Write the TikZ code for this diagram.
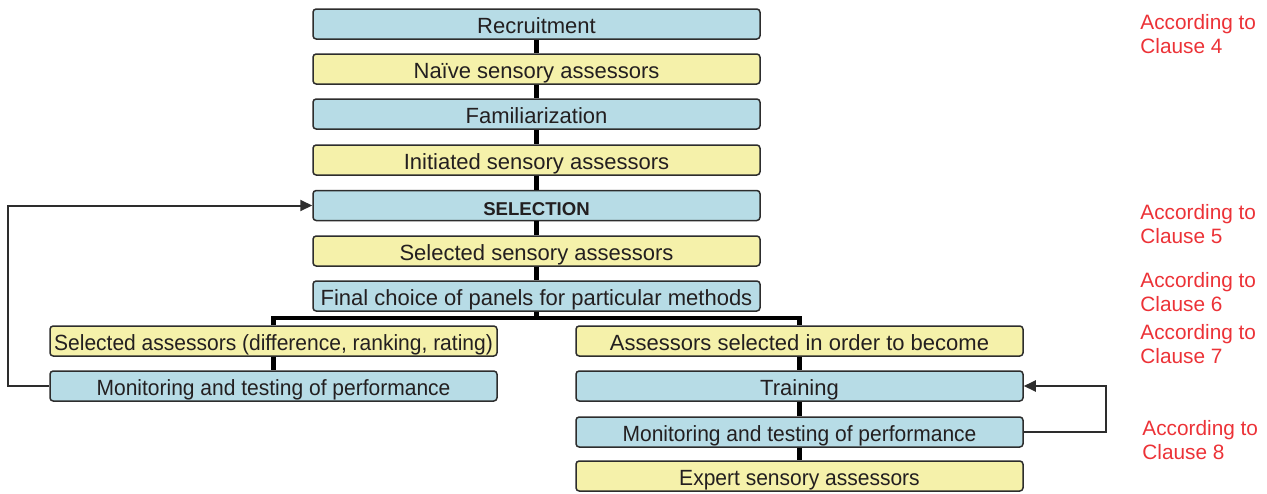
\documentclass[tikz,border=0pt]{standalone}
\usepackage{fontspec}
\setmainfont{Liberation Sans}
\newfontfamily\narrowfont[FakeStretch=0.955]{Liberation Sans}
\usetikzlibrary{arrows.meta}
\definecolor{boxblue}{RGB}{183,220,230}
\definecolor{boxyellow}{RGB}{245,241,170}
\definecolor{boxline}{RGB}{45,45,45}
\definecolor{txt}{RGB}{35,31,32}
\definecolor{clause}{RGB}{236,50,55}
\tikzset{
  stepbox/.style={draw=boxline, line width=0.75pt, rounded corners=1.6pt, minimum width=223.5pt, minimum height=15pt, inner sep=0pt, text height=10.2pt, text depth=0.8pt, text=txt, font=\fontsize{11}{13}\selectfont},
  bluebox/.style={stepbox, fill=boxblue},
  yellowbox/.style={stepbox, fill=boxyellow},
  narrowtext/.style={font=\narrowfont\fontsize{11}{13}\selectfont},
  conn/.style={line width=2.2pt, draw=black, line join=miter},
  fb/.style={line width=1pt, draw=boxline, -{Triangle[length=6pt,width=5.5pt]}},
  note/.style={text=clause, font=\fontsize{10.4}{12}\selectfont, align=left, anchor=west, inner sep=0pt}
}
\begin{document}
\begin{tikzpicture}[x=0.5pt,y=-0.5pt]
\useasboundingbox (0,0) rectangle (1267,493);
% main column
\node[bluebox]   (R)  at (536.5,24)  {Recruitment};
\node[yellowbox] (N)  at (536.5,69)  {Naïve sensory assessors};
\node[bluebox]   (F)  at (536.5,114) {Familiarization};
\node[yellowbox] (I)  at (536.5,160) {Initiated sensory assessors};
\node[bluebox, text height=10.2pt, text depth=0pt] (S)  at (536.5,205.5) {\fontsize{9.3}{11}\selectfont\bfseries SELECTION};
\node[yellowbox] (SS) at (536.5,251) {Selected sensory assessors};
\node[bluebox]   (FC) at (536.5,296) {Final choice of panels for particular methods};
% left column
\node[yellowbox, narrowtext] (SA) at (273.5,341) {Selected assessors (difference, ranking, rating)};
\node[bluebox, narrowtext]   (ML) at (273.5,386) {Monitoring and testing of performance};
% right column
\node[yellowbox] (AS) at (799.5,341) {Assessors selected in order to become};
\node[bluebox]   (T)  at (799.5,386) {Training};
\node[bluebox, narrowtext]   (MR) at (799.5,432) {Monitoring and testing of performance};
\node[yellowbox, narrowtext] (E)  at (799.5,476) {Expert sensory assessors};
% connectors
\draw[conn] (R) -- (N);
\draw[conn] (N) -- (F);
\draw[conn] (F) -- (I);
\draw[conn] (I) -- (S);
\draw[conn] (S) -- (SS);
\draw[conn] (SS) -- (FC);
\coordinate (b)  at (536.5,318);
\coordinate (bl) at (273.5,318);
\coordinate (br) at (799.5,318);
\draw[conn] (FC.south) -- (b);
\draw[conn] (SA.north) -- (bl) -- (br) -- (AS.north);
\draw[conn] (SA) -- (ML);
\draw[conn] (AS) -- (T);
\draw[conn] (T) -- (MR);
\draw[conn] (MR) -- (E);
% feedback loops
\coordinate (lc) at (8,386);
\draw[fb] (ML.west) -- (lc) |- (S.west);
\coordinate (rc) at (1106,432);
\draw[fb] (MR.east) -- (rc) |- (T.east);
% clause notes
\node[note] (c4) at (1140,34)  {According to\\Clause 4};
\node[note] (c5) at (1140,224) {According to\\Clause 5};
\node[note] (c6) at (1140,292) {According to\\Clause 6};
\node[note] (c7) at (1140,344) {According to\\Clause 7};
\node[note] (c8) at (1142,440) {According to\\Clause 8};
\end{tikzpicture}
\end{document}
